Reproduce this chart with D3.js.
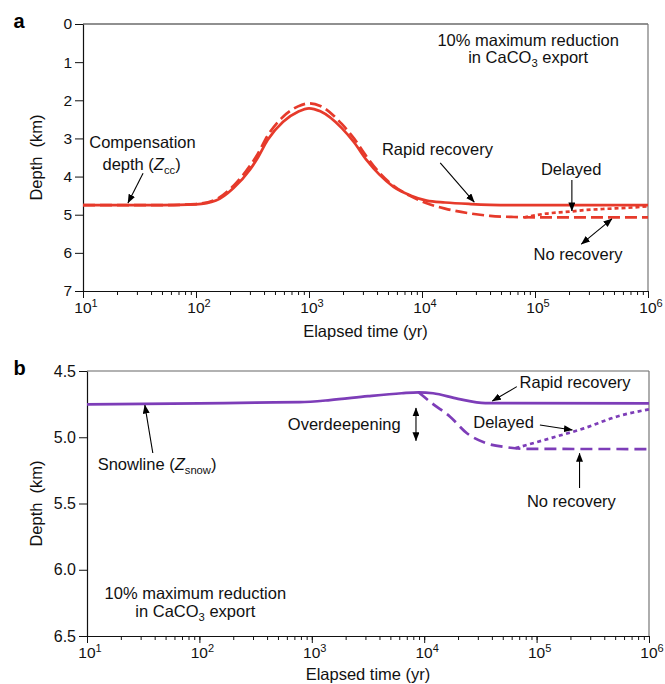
<!DOCTYPE html>
<html>
<head>
<meta charset="utf-8">
<script src="https://cdn.jsdelivr.net/npm/d3@7"></script>
<style>
  body { margin: 0; background: #fff; }
  svg { font-family: "Liberation Sans", Arial, Helvetica, sans-serif; }
</style>
</head>
<body>
<div id="chart"></div>
<script>
// tick labels
const xTickExps = [1, 2, 3, 4, 5, 6];
const aDepthTicks = [0, 1, 2, 3, 4, 5, 6, 7];
const bDepthTicks = [4.5, 5.0, 5.5, 6.0, 6.5];

// panel a : compensation depth (km) vs elapsed time (yr)
const aTime = [10, 50, 100, 150, 215, 300, 350, 430, 590, 800, 1000, 1260, 1950, 2500, 3240, 4200, 5600, 8000, 11000, 16000, 27000, 40000, 65000, 100000, 1000000];
const aRapid = [4.75, 4.75, 4.73, 4.63, 4.30, 3.82, 3.52, 3.04, 2.56, 2.30, 2.21, 2.29, 2.73, 3.10, 3.57, 3.95, 4.27, 4.50, 4.63, 4.68, 4.72, 4.74, 4.75, 4.75, 4.75];
const aNone = [4.75, 4.75, 4.72, 4.60, 4.24, 3.72, 3.42, 2.93, 2.43, 2.16, 2.08, 2.15, 2.62, 3.00, 3.48, 3.90, 4.24, 4.52, 4.70, 4.84, 4.97, 5.03, 5.06, 5.07, 5.07];
const aDelayedTime = [80000, 126000, 200000, 270000, 400000, 740000, 1000000];
const aDelayed = [5.07, 4.97, 4.92, 4.88, 4.85, 4.81, 4.78];

// panel b : snowline depth (km) vs elapsed time (yr)
const bTime = [10, 100, 316, 780, 1450, 3160, 6300, 8900, 12000, 20000, 35000, 1000000];
const bRapid = [4.752, 4.745, 4.738, 4.735, 4.72, 4.69, 4.668, 4.661, 4.668, 4.71, 4.742, 4.745];
const bNoneTime = [8900, 12000, 17000, 24000, 36000, 55000, 80000, 1000000];
const bNone = [4.661, 4.75, 4.845, 4.97, 5.046, 5.076, 5.088, 5.089];
const bDelayedTime = [65000, 132000, 263000, 513000, 1000000];
const bDelayed = [5.082, 5.008, 4.933, 4.845, 4.789];

const W = 665, H = 684;
const svg = d3.select('#chart').append('svg')
  .attr('width', W)
  .attr('height', H);

// arrow head
const defs = svg.append('defs');
defs.append('marker')
  .attr('id', 'ah')
  .attr('viewBox', '0 0 9 7')
  .attr('refX', 8.5).attr('refY', 3.5)
  .attr('markerWidth', 9).attr('markerHeight', 7)
  .attr('markerUnits', 'userSpaceOnUse')
  .attr('orient', 'auto-start-reverse')
  .append('path')
  .attr('d', 'M0,0 L9,3.5 L0,7 Z')
  .attr('fill', '#000');

const zip = (t, v) => t.map((d, i) => [d, v[i]]);

// text with italic / subscript parts
function rich(g, x, y, parts, size) {
  const t = g.append('text')
    .attr('x', x).attr('y', y)
    .attr('text-anchor', 'middle')
    .attr('font-size', size)
    .attr('fill', '#111');
  let shift = 0;
  parts.forEach(p => {
    const [txt, kind] = typeof p === 'string' ? [p, ''] : p;
    const s = t.append('tspan').text(txt);
    const target = kind === 'sub' ? 4 : 0;
    if (target !== shift) { s.attr('dy', target - shift); shift = target; }
    if (kind === 'sub') s.attr('font-size', size * 0.68);
    if (kind === 'i') s.attr('font-style', 'italic');
  });
  return t;
}

function panel(cfg) {
  const x = d3.scaleLog().domain([10, 1e6]).range([cfg.left, cfg.right]);
  const y = d3.scaleLinear().domain(cfg.yDomain).range([cfg.top, cfg.bottom]);
  const g = svg.append('g');

  // frame top / right
  g.append('line')
    .attr('x1', cfg.left).attr('x2', cfg.right)
    .attr('y1', cfg.top).attr('y2', cfg.top)
    .attr('stroke', cfg.topColor).attr('stroke-width', 1.2);
  g.append('line')
    .attr('x1', cfg.right).attr('x2', cfg.right)
    .attr('y1', cfg.top).attr('y2', cfg.bottom)
    .attr('stroke', '#777').attr('stroke-width', 1.2);

  // x axis: minor ticks then major ticks
  g.append('g')
    .attr('transform', `translate(0,${cfg.bottom})`)
    .call(d3.axisBottom(x).tickValues(x.ticks()).tickSize(4).tickSizeOuter(0).tickFormat(''))
    .call(s => s.select('.domain').remove());
  const xa = g.append('g')
    .attr('transform', `translate(0,${cfg.bottom})`)
    .call(d3.axisBottom(x).tickValues(xTickExps.map(e => Math.pow(10, e))).tickSize(7).tickSizeOuter(0).tickFormat(''));
  xa.selectAll('.tick text').remove();
  g.selectAll('.tick line').attr('stroke', '#111').attr('stroke-width', 1);
  xa.select('.domain').attr('stroke', '#111').attr('stroke-width', 1.2);

  xTickExps.forEach(e => {
    const t = g.append('text')
      .attr('x', x(Math.pow(10, e)) + 3)
      .attr('y', cfg.bottom + 22)
      .attr('text-anchor', 'middle')
      .attr('font-size', 15.5)
      .attr('fill', '#111');
    t.append('tspan').text('10');
    t.append('tspan').attr('dy', -6).attr('font-size', 11).text(e);
  });

  // y axis
  const ya = g.append('g')
    .attr('transform', `translate(${cfg.left},0)`)
    .call(d3.axisLeft(y).tickValues(cfg.ticks).tickSize(8).tickSizeOuter(0).tickPadding(3).tickFormat(cfg.fmt));
  ya.select('.domain').attr('stroke', '#111').attr('stroke-width', 1.2);
  ya.selectAll('.tick line').attr('stroke', '#111');
  ya.selectAll('.tick text')
    .attr('font-size', cfg.yFont)
    .attr('font-family', '"Liberation Sans", Arial, sans-serif')
    .attr('fill', '#111');

  // axis titles
  g.append('text')
    .attr('transform', `translate(42,${(cfg.top + cfg.bottom) / 2}) rotate(-90)`)
    .attr('text-anchor', 'middle')
    .attr('font-size', 16.5)
    .attr('fill', '#111')
    .attr('xml:space', 'preserve')
    .text('Depth  (km)');
  g.append('text')
    .attr('x', (cfg.left + cfg.right) / 2)
    .attr('y', cfg.titleY)
    .attr('text-anchor', 'middle')
    .attr('font-size', 16.5)
    .attr('fill', '#111')
    .text('Elapsed time (yr)');

  // panel letter
  g.append('text')
    .attr('x', 13.5).attr('y', cfg.letterY)
    .attr('font-size', 20)
    .attr('font-weight', 'bold')
    .attr('fill', '#000')
    .text(cfg.letter);

  // curves
  const line = d3.line()
    .x(d => x(d[0]))
    .y(d => y(d[1]))
    .curve(d3.curveMonotoneX);
  cfg.series.forEach(s => {
    g.append('path')
      .datum(s.data)
      .attr('d', line)
      .attr('fill', 'none')
      .attr('stroke', cfg.color)
      .attr('stroke-width', 2.7)
      .attr('stroke-dasharray', s.dash)
      .attr('stroke-linecap', 'butt');
  });

  // annotations (positions in data units)
  cfg.labels.forEach(l => {
    rich(g, x(l.t), y(l.d), l.parts, 16.5);
  });
  cfg.arrows.forEach(a => {
    g.append('line')
      .attr('x1', x(a[0])).attr('y1', y(a[1]))
      .attr('x2', x(a[2])).attr('y2', y(a[3]))
      .attr('stroke', '#000').attr('stroke-width', 1.1)
      .attr('marker-end', 'url(#ah)')
      .attr('marker-start', a[4] ? 'url(#ah)' : null);
  });
}

panel({
  letter: 'a', letterY: 28,
  left: 83, right: 648, top: 24, bottom: 291,
  yDomain: [0, 7], ticks: aDepthTicks, fmt: d3.format('d'), yFont: 15.5,
  titleY: 337, topColor: '#222',
  color: '#e63a2b',
  series: [
    { data: zip(aTime, aRapid), dash: null },
    { data: zip(aTime, aNone), dash: '12,5' },
    { data: zip(aDelayedTime, aDelayed), dash: '4,3' }
  ],
  labels: [
    { t: 8.7e4, d: 0.58, parts: ['10% maximum reduction'] },
    { t: 8.7e4, d: 1.03, parts: ['in CaCO', ['3', 'sub'], ' export'] },
    { t: 1.37e4, d: 3.43, parts: ['Rapid recovery'] },
    { t: 2.09e5, d: 3.96, parts: ['Delayed'] },
    { t: 2.4e5, d: 6.19, parts: ['No recovery'] },
    { t: 33.6, d: 3.25, parts: ['Compensation'] },
    { t: 33, d: 3.83, parts: ['depth (', ['Z', 'i'], ['cc', 'sub'], ')'] }
  ],
  arrows: [
    [1.45e4, 3.64, 2.9e4, 4.67, false],
    [2.12e5, 4.09, 2.12e5, 4.9, false],
    [2.57e5, 5.77, 4.8e5, 5.11, true],
    [34, 3.91, 25, 4.69, false]
  ]
});

panel({
  letter: 'b', letterY: 375,
  left: 87, right: 649, top: 371, bottom: 636,
  yDomain: [4.5, 6.5], ticks: bDepthTicks, fmt: d3.format('.1f'), yFont: 16,
  titleY: 680, topColor: '#666',
  color: '#7d3db8',
  series: [
    { data: zip(bTime, bRapid), dash: null },
    { data: zip(bNoneTime, bNone), dash: '12,6' },
    { data: zip(bDelayedTime, bDelayed), dash: '4,3.5' }
  ],
  labels: [
    { t: 42, d: 5.247, parts: ['Snowline (', ['Z', 'i'], ['snow', 'sub'], ')'] },
    { t: 1945, d: 4.945, parts: ['Overdeepening'] },
    { t: 2.2e5, d: 4.628, parts: ['Rapid recovery'] },
    { t: 5.08e4, d: 4.93, parts: ['Delayed'] },
    { t: 2.04e5, d: 5.524, parts: ['No recovery'] },
    { t: 92, d: 6.22, parts: ['10% maximum reduction'] },
    { t: 92, d: 6.358, parts: ['in CaCO', ['3', 'sub'], ' export'] }
  ],
  arrows: [
    [38.5, 5.119, 32.7, 4.757, false],
    [8450, 4.779, 8450, 5.026, true],
    [6.67e4, 4.618, 4.04e4, 4.726, false],
    [1.07e5, 4.908, 2.08e5, 4.945, false],
    [2.41e5, 5.383, 2.41e5, 5.121, false]
  ]
});
</script>
</body>
</html>
